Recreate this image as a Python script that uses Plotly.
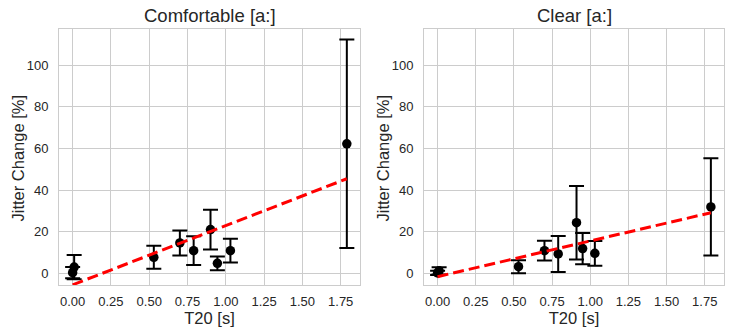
import plotly.graph_objects as go

# ---- data ----
comf_x = [0.0, 0.01, 0.53, 0.70, 0.79, 0.90, 0.945, 1.03, 1.79]
comf_y = [0.3, 3.0, 7.7, 14.6, 10.9, 21.0, 4.8, 10.9, 62.2]
comf_err = [2.7, 5.8, 5.5, 6.0, 6.9, 9.5, 3.3, 5.7, 50.0]
comf_fit_x = [0.0, 1.79]
comf_fit_y = [-5.5, 45.4]

clear_x = [0.0, 0.01, 0.53, 0.70, 0.79, 0.91, 0.95, 1.03, 1.79]
clear_y = [0.2, 1.2, 3.2, 10.9, 9.3, 24.3, 11.9, 9.6, 31.9]
clear_err = [1.0, 1.7, 3.1, 4.7, 8.6, 17.6, 7.5, 5.9, 23.3]
clear_fit_x = [0.0, 1.79]
clear_fit_y = [-1.6, 29.1]

titles = ["Comfortable [a:]", "Clear [a:]"]
x_ticks = [0, 0.25, 0.5, 0.75, 1.0, 1.25, 1.5, 1.75]
x_ticklabels = ["0.00", "0.25", "0.50", "0.75", "1.00", "1.25", "1.50", "1.75"]
y_ticks = [0, 20, 40, 60, 80, 100]
x_label = "T20 [s]"
y_label = "Jitter Change [%]"

W, H = 734, 333
FONT = "Liberation Sans, Arial, sans-serif"
TXT = "#262626"
GRID = "#cccccc"


def px_x(p):
    return p / W


def px_y(p):
    return 1 - p / H


fig = go.Figure()

panels = [
    (comf_x, comf_y, comf_err, comf_fit_x, comf_fit_y, "x", "y"),
    (clear_x, clear_y, clear_err, clear_fit_x, clear_fit_y, "x2", "y2"),
]
for px, py, pe, fx, fy, xa, ya in panels:
    fig.add_trace(go.Scatter(
        x=px, y=py, mode="markers", xaxis=xa, yaxis=ya,
        marker=dict(color="black", size=9.5),
        error_y=dict(type="data", array=pe, visible=True,
                     color="black", thickness=2, width=7.5),
        showlegend=False,
    ))
    fig.add_trace(go.Scatter(
        x=fx, y=fy, mode="lines", xaxis=xa, yaxis=ya,
        line=dict(color="#ff0000", width=3, dash="11px,5px"),
        showlegend=False,
    ))

x_domains = [[px_x(59), px_x(360)], [px_x(424), px_x(724)]]
y_domain = [px_y(285), px_y(29)]

common_x = dict(
    range=[-0.089, 1.876], tickvals=x_ticks, ticktext=x_ticklabels,
    showgrid=True, gridcolor=GRID, gridwidth=1, zeroline=False,
    showline=True, linecolor=GRID, linewidth=1, mirror=True,
    ticks="", tickfont=dict(family=FONT, size=13, color=TXT),
    title=dict(text=x_label, font=dict(family=FONT, size=16.5, color=TXT), standoff=3),
    automargin=False, ticklabelstandoff=4,
)
common_y = dict(
    range=[-5.6, 117.3], tickvals=y_ticks,
    showgrid=True, gridcolor=GRID, gridwidth=1, zeroline=False,
    showline=True, linecolor=GRID, linewidth=1, mirror=True,
    ticks="", tickfont=dict(family=FONT, size=13, color=TXT),
    automargin=False, ticklabelstandoff=7, domain=y_domain,
)

annotations = [
    dict(text=titles[i], x=sum(x_domains[i]) / 2, y=px_y(15.5),
         xref="paper", yref="paper", showarrow=False,
         xanchor="center", yanchor="middle",
         font=dict(family=FONT, size=18.5, color=TXT))
    for i in range(2)
]
for xc in (17.5, 382.5):
    annotations.append(dict(
        text=y_label, x=px_x(xc), y=px_y(158), xref="paper", yref="paper",
        showarrow=False, textangle=-90, xanchor="center", yanchor="middle",
        font=dict(family=FONT, size=16.5, color=TXT)))

fig.update_layout(
    width=W, height=H,
    margin=dict(l=0, r=0, t=0, b=0),
    paper_bgcolor="white", plot_bgcolor="white",
    xaxis=dict(common_x, domain=x_domains[0], anchor="y"),
    yaxis=dict(common_y, anchor="x"),
    xaxis2=dict(common_x, domain=x_domains[1], anchor="y2"),
    yaxis2=dict(common_y, anchor="x2"),
    annotations=annotations,
)

fig.write_html("out.html", config={"displayModeBar": False},
               post_script="document.body.style.margin='0';")
